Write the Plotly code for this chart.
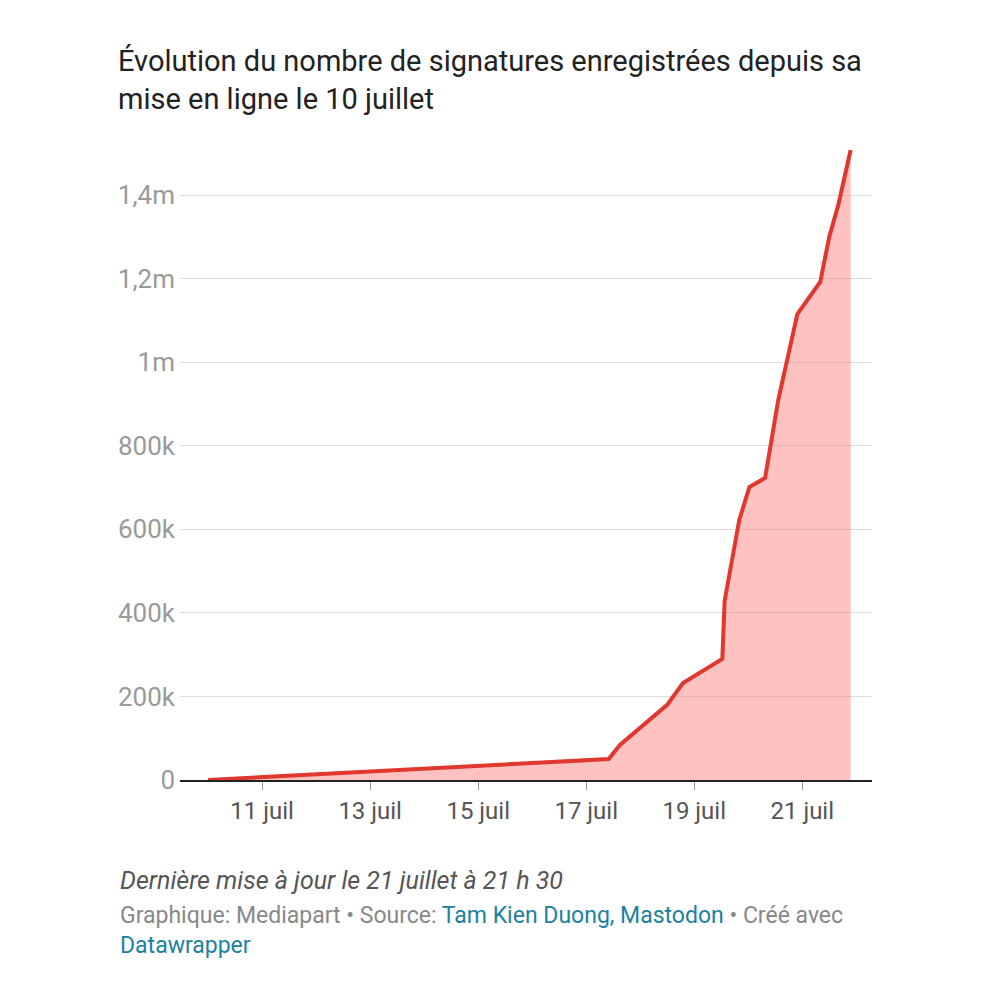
import plotly.graph_objects as go

# Signatures over time
dates = [
    "2023-07-10 00:00", "2023-07-17 10:00", "2023-07-17 15:00", "2023-07-18 12:00",
    "2023-07-18 19:00", "2023-07-19 12:30", "2023-07-19 13:30", "2023-07-19 17:00",
    "2023-07-19 20:00", "2023-07-20 00:30", "2023-07-20 07:30", "2023-07-20 13:20",
    "2023-07-20 21:50", "2023-07-21 08:00", "2023-07-21 12:00", "2023-07-21 16:00",
    "2023-07-21 21:30",
]
signatures = [0, 50000, 84000, 180000, 232000, 290000, 428000, 526000, 622000,
              701000, 723000, 909000, 1115000, 1192000, 1300000, 1376000, 1508000]

y_ticks = [0, 200000, 400000, 600000, 800000, 1000000, 1200000, 1400000]
y_labels = ["0", "200k", "400k", "600k", "800k", "1m", "1,2m", "1,4m"]
x_ticks = ["2023-07-11", "2023-07-13", "2023-07-15", "2023-07-17", "2023-07-19", "2023-07-21"]
x_labels = ["11 juil", "13 juil", "15 juil", "17 juil", "19 juil", "21 juil"]

RED = "#e0382e"
FILL = "rgba(255,120,115,0.45)"
GREY = "#9a9a9a"

fig = go.Figure()
fig.add_trace(go.Scatter(
    x=dates, y=signatures, mode="lines", fill="tozeroy", fillcolor=FILL,
    line=dict(color=RED, width=4), hoverinfo="skip",
))

fig.update_layout(
    width=990, height=1000,
    paper_bgcolor="white", plot_bgcolor="white",
    margin=dict(l=172, r=126, t=142, b=228),
    showlegend=False,
    font=dict(family="Roboto", color="#222"),
    title=dict(
        text="Évolution du nombre de signatures enregistrées depuis sa<br>mise en ligne le 10 juillet",
        x=110 / 990, xref="container", y=0.937, yref="container",
        xanchor="left", yanchor="top",
        font=dict(size=29, color="#222"),
    ),
)

fig.update_xaxes(
    range=["2023-07-09 11:30", "2023-07-22 07:00"],
    tickvals=x_ticks, ticktext=x_labels, showgrid=False,
    showline=True, linecolor="#222", linewidth=2,
    ticks="outside", ticklen=8, tickcolor="#999",
    tickfont=dict(size=24, color="#555"),
)
fig.update_yaxes(
    range=[0, 1508000], tickvals=y_ticks, ticktext=y_labels,
    showgrid=True, gridcolor="#dddddd", gridwidth=1, zeroline=False,
    tickfont=dict(size=26, color=GREY), ticklabelstandoff=4,
)

fig.add_annotation(
    text="<i>Dernière mise à jour le 21 juillet à 21 h 30</i>",
    xref="paper", yref="paper", x=-62 / 692, y=-0.134, xanchor="left", yanchor="top",
    showarrow=False, font=dict(size=25, color="#555"),
)
fig.add_annotation(
    text="Graphique: Mediapart • Source: <span style='color:#1d81a2'>Tam Kien Duong, Mastodon</span> • Créé avec<br><span style='color:#1d81a2'>Datawrapper</span>",
    xref="paper", yref="paper", x=-62 / 692, y=-0.19, xanchor="left", yanchor="top",
    align="left", showarrow=False, font=dict(size=23, color="#888"),
)

fig.write_html("out.html")
